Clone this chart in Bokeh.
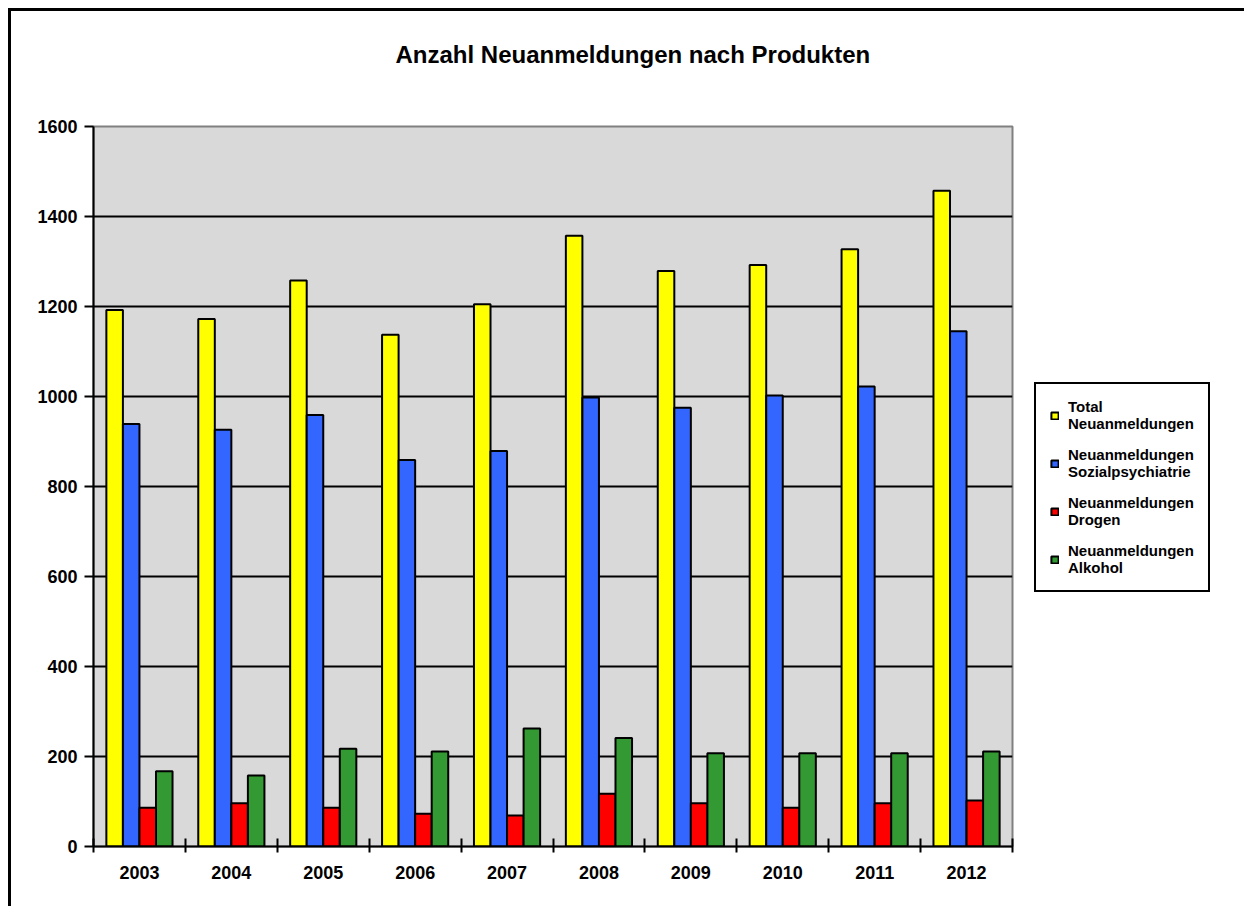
import numpy as np
from bokeh.plotting import figure
from bokeh.models import ColumnDataSource, Range1d, FixedTicker, Legend, LegendItem, Title
from bokeh.transform import dodge
from bokeh.embed import file_html
from bokeh.resources import INLINE

# Yearly new registrations by product
years = ["2003", "2004", "2005", "2006", "2007", "2008", "2009", "2010", "2011", "2012"]
total = [1192, 1172, 1258, 1137, 1205, 1357, 1279, 1292, 1327, 1457]
sozialpsychiatrie = [939, 926, 959, 859, 879, 998, 975, 1002, 1022, 1145]
drogen = [86, 96, 86, 73, 69, 117, 96, 86, 96, 102]
alkohol = [167, 158, 217, 211, 262, 241, 207, 207, 207, 211]

series_labels = [
    "Total\nNeuanmeldungen",
    "Neuanmeldungen\nSozialpsychiatrie",
    "Neuanmeldungen\nDrogen",
    "Neuanmeldungen\nAlkohol",
]
y_ticks = [0, 200, 400, 600, 800, 1000, 1200, 1400, 1600]

FONT = "Liberation Sans"
EDGE = 11  # width of the outer frame strip (margin + border)

source = ColumnDataSource(dict(
    pos=np.arange(len(years)) + 0.5,
    total=total,
    sozial=sozialpsychiatrie,
    drogen=drogen,
    alkohol=alkohol,
))

p = figure(
    width=1244 - EDGE, height=906 - EDGE,
    frame_width=919, frame_height=720,
    min_border_left=93 - EDGE, min_border_top=126 - EDGE,
    min_border_right=1244 - 1012, min_border_bottom=60,
    x_range=Range1d(0, len(years)), y_range=Range1d(0, 1600),
    output_backend="svg", toolbar_location=None,
    background_fill_color="#D9D9D9", border_fill_color="white",
    title=None,
)
p.styles = {
    "margin-left": "8px", "margin-top": "8px",
    "border-left": "3px solid black", "border-top": "3px solid black",
}

p.outline_line_color = "#808080"
p.outline_line_width = 2

# Title: a thin spacer next to the frame, then the heading above it
p.add_layout(Title(text=" ", text_font_size="1px", standoff=56), "above")
p.add_layout(Title(
    text="Anzahl Neuanmeldungen nach Produkten",
    text_font=FONT, text_font_style="bold", text_font_size="24px",
    text_color="black", align="left", offset=302, standoff=0,
), "above")

# Bars
w = 0.18
cols = [("total", "#FFFF00", -0.27), ("sozial", "#3366FF", -0.09),
        ("drogen", "#FF0000", 0.09), ("alkohol", "#339933", 0.27)]
renderers = []
for field, color, off in cols:
    r = p.vbar(x=dodge("pos", off), top=field, width=w, bottom=0, source=source,
               fill_color=color, line_color="black", line_width=2)
    renderers.append(r)

# Axes
p.xaxis.ticker = FixedTicker(ticks=list(np.arange(len(years)) + 0.5),
                             minor_ticks=list(range(len(years) + 1)))
p.xaxis.major_label_overrides = {float(i + 0.5): y for i, y in enumerate(years)}
p.xaxis.major_tick_line_color = None
p.xaxis.major_tick_out = 0
p.xaxis.major_tick_in = 0
p.xaxis.minor_tick_line_color = "black"
p.xaxis.minor_tick_line_width = 2
p.xaxis.minor_tick_in = 8
p.xaxis.minor_tick_out = 6
p.xaxis.major_label_standoff = 13

p.yaxis.ticker = FixedTicker(ticks=y_ticks)
p.yaxis.major_tick_out = 9
p.yaxis.major_tick_in = 0
p.yaxis.minor_tick_line_color = None
p.yaxis.major_tick_line_width = 2
p.yaxis.major_label_standoff = 7

for ax in (p.xaxis[0], p.yaxis[0]):
    ax.axis_line_color = "black"
    ax.axis_line_width = 2
    ax.major_label_text_font = FONT
    ax.major_label_text_font_style = "bold"
    ax.major_label_text_font_size = "18px"
    ax.major_label_text_color = "black"

# Grid
p.xgrid.grid_line_color = None
p.ygrid.ticker = FixedTicker(ticks=y_ticks[1:-1])
p.ygrid.grid_line_color = "black"
p.ygrid.grid_line_width = 2

# Legend in the right-hand panel (offsets from the panel's lower-left corner)
legend = Legend(
    items=[LegendItem(label=lab, renderers=[r]) for lab, r in zip(series_labels, renderers)],
    location=(22, 254),
    margin=0,
    padding=14,
    spacing=14,
    glyph_width=9, glyph_height=9,
    label_standoff=9,
    label_text_font=FONT,
    label_text_font_style="bold",
    label_text_font_size="15px",
    label_text_line_height=1.15,
    label_text_color="black",
    border_line_color="black",
    border_line_width=2,
    border_line_alpha=1.0,
    background_fill_color="white",
    background_fill_alpha=1.0,
)
p.add_layout(legend, "right")

open("out.html", "w").write(file_html(p, INLINE))
